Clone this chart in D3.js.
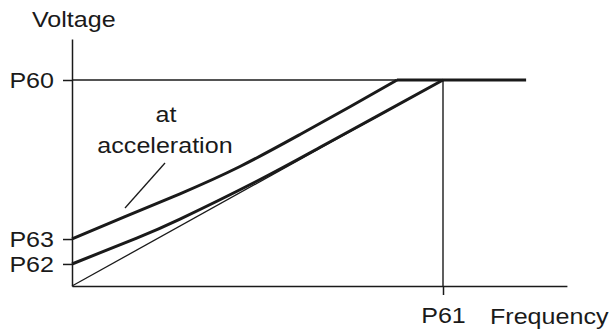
<!DOCTYPE html>
<html>
<head>
<meta charset="utf-8">
<script src="https://cdn.jsdelivr.net/npm/d3@7"></script>
<style>
  html, body { margin: 0; padding: 0; background: #fff; }
  svg { display: block; }
  text { font-family: "Liberation Sans", Arial, sans-serif; fill: #1a1a1a; }
</style>
</head>
<body>
<svg id="chart" width="614" height="331"></svg>
<script>
// ---- data (frequency as fraction of P61, voltage as fraction of P60) ----
const yTickValues = [0.107, 0.228, 1.0];
const yTickLabels = ["P62", "P63", "P60"];
const xTickValues = [1.0];
const xTickLabels = ["P61"];
const axisTitles = ["Voltage", "Frequency"];
const annotationLines = ["at", "acceleration"];

// curve at acceleration (boost P63)
const accelFreq    = [0, 0.1429, 0.2911, 0.4528, 0.6146, 0.7493, 0.876];
const accelVoltage = [0.2282, 0.3364, 0.4476, 0.5801, 0.7354, 0.8699, 1.0];

// normal curve (boost P62)
const normalFreq    = [0, 0.1744, 0.2911, 0.4978, 0.6685, 0.8213, 1.0];
const normalVoltage = [0.1068, 0.2327, 0.3251, 0.5085, 0.6734, 0.8232, 1.0];

// constant-voltage segment above base frequency
const flatFreq    = [0.876, 1.224];
const flatVoltage = [1.0, 1.0];

// linear V/f reference
const linearFreq    = [0, 1.0];
const linearVoltage = [0, 1.0];

const xMax = 1.334, yMax = 1.199;

// ---- layout ----
const svg = d3.select("#chart");
const x = d3.scaleLinear().domain([0, 1]).range([72, 443]);
const y = d3.scaleLinear().domain([0, 1]).range([286, 80]);
const ink = "#1a1a1a";
const fs = 22;
const stretch = 1.14;

// axes
const yAxis = d3.axisLeft(d3.scaleLinear().domain([0, yMax]).range([y(0), y(yMax)]))
  .tickValues(yTickValues)
  .tickFormat((d, i) => yTickLabels[i])
  .tickSize(9).tickSizeOuter(0).tickPadding(9);
const gy = svg.append("g").attr("transform", `translate(${x(0)},0)`).call(yAxis);

const xAxis = d3.axisBottom(d3.scaleLinear().domain([0, xMax]).range([x(0), x(xMax)]))
  .tickValues(xTickValues)
  .tickFormat((d, i) => xTickLabels[i])
  .tickSize(9).tickSizeOuter(0).tickPadding(12.5);
const gx = svg.append("g").attr("transform", `translate(0,${y(0)})`).call(xAxis);

[gx, gy].forEach(g => {
  g.selectAll("path, line").attr("stroke", ink).attr("stroke-width", 1.5);
  g.selectAll("text").attr("font-size", fs).attr("font-family", "'Liberation Sans', Arial, sans-serif").attr("fill", ink);
});

// reference lines: P60 level and P61 frequency
svg.append("line")
  .attr("x1", x(0)).attr("x2", x(1)).attr("y1", y(1)).attr("y2", y(1))
  .attr("stroke", ink).attr("stroke-width", 1.4);
svg.append("line")
  .attr("x1", x(1)).attr("x2", x(1)).attr("y1", y(0)).attr("y2", y(1))
  .attr("stroke", ink).attr("stroke-width", 1.4);

// curves
const smooth = d3.line().x(d => x(d[0])).y(d => y(d[1])).curve(d3.curveNatural);
const straight = d3.line().x(d => x(d[0])).y(d => y(d[1]));
const zipPts = (fx, vy) => fx.map((f, i) => [f, vy[i]]);

svg.append("path").datum(zipPts(linearFreq, linearVoltage))
  .attr("d", straight).attr("fill", "none").attr("stroke", ink).attr("stroke-width", 1.3);

svg.append("path").datum(zipPts(normalFreq, normalVoltage))
  .attr("d", smooth).attr("fill", "none").attr("stroke", ink).attr("stroke-width", 3);

svg.append("path").datum(zipPts(accelFreq, accelVoltage))
  .attr("d", smooth).attr("fill", "none").attr("stroke", ink).attr("stroke-width", 3);

svg.append("path").datum(zipPts(flatFreq, flatVoltage))
  .attr("d", straight).attr("fill", "none").attr("stroke", ink).attr("stroke-width", 3);

// annotation
svg.append("line")
  .attr("x1", 165).attr("y1", 163).attr("x2", 125).attr("y2", 208)
  .attr("stroke", ink).attr("stroke-width", 1.3);
svg.append("text").attr("x", 166).attr("y", 122).attr("text-anchor", "middle")
  .attr("font-size", fs).text(annotationLines[0]);
svg.append("text").attr("x", 165).attr("y", 153).attr("text-anchor", "middle")
  .attr("font-size", fs).text(annotationLines[1]);

// axis titles
svg.append("text").attr("x", 32).attr("y", 27).attr("font-size", fs).text(axisTitles[0]);
svg.append("text").attr("x", 490).attr("y", 324).attr("font-size", fs).text(axisTitles[1]);

// widen glyphs to match the reference's wider typeface
svg.selectAll("text").each(function() {
  const w = this.getComputedTextLength();
  d3.select(this).attr("textLength", w * stretch).attr("lengthAdjust", "spacingAndGlyphs");
});
</script>
</body>
</html>
